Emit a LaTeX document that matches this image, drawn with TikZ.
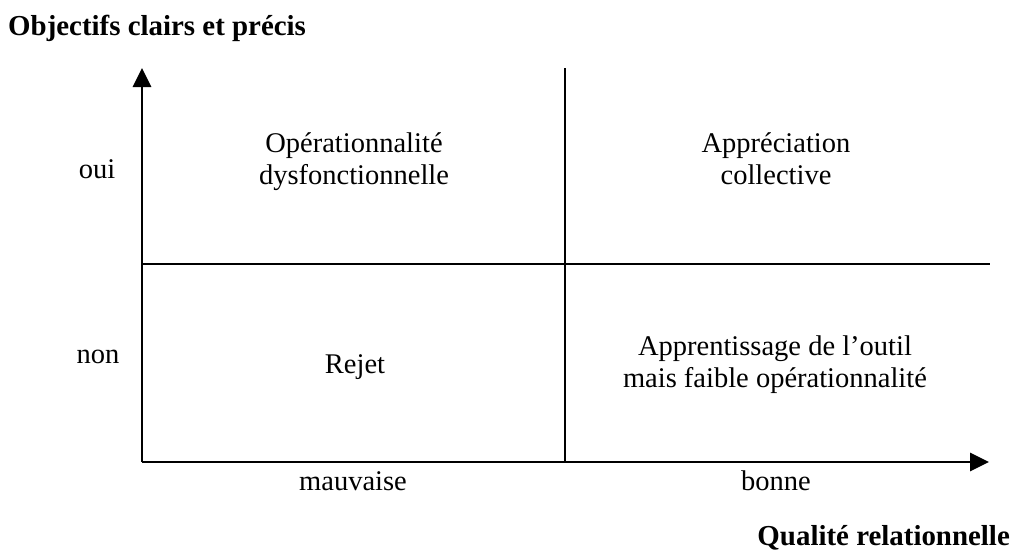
\documentclass[tikz,border=0pt]{standalone}
\usepackage{fontspec}
\setmainfont{Liberation Serif}
\usetikzlibrary{arrows.meta}
\begin{document}
\begin{tikzpicture}[x=1pt,y=-1pt,
  lbl/.style={inner sep=0pt,anchor=base,font=\fontsize{28.5}{32}\selectfont,align=center},
  axistitle/.style={inner sep=0pt,font=\fontsize{28.9}{32}\selectfont\bfseries},
  axisline/.style={line width=2.8pt,-{Triangle[length=19pt,width=18pt]}},
  divider/.style={line width=2pt}]
\useasboundingbox (0,0) rectangle (1017,554);

% axes
\coordinate (origin) at (142,462);
\coordinate (ytip) at (142,68);
\coordinate (xtip) at (989,462);
\draw[axisline] (origin) -- (ytip);
\draw[axisline] (origin) -- (xtip);

% quadrant dividers
\coordinate (vtop) at (565,68);
\coordinate (vbot) at (565,462);
\coordinate (hleft) at (142,264);
\coordinate (hright) at (990,264);
\draw[divider] (vtop) -- (vbot);
\draw[divider] (hleft) -- (hright);

% axis titles
\node[axistitle,anchor=base west] (ytitle) at (8,35) {Objectifs clairs et précis};
\node[axistitle,anchor=base east] (xtitle) at (1010,545) {Qualité relationnelle};

% axis values
\node[lbl] (oui) at (97,178) {oui};
\node[lbl] (non) at (98,363) {non};
\node[lbl] (mauvaise) at (353,490) {mauvaise};
\node[lbl] (bonne) at (776,490) {bonne};

% quadrants (base anchor sits on the last line)
\node[lbl] (q1) at (354,184) {Opérationnalité\\dysfonctionnelle};
\node[lbl] (q2) at (776,184) {Appréciation\\collective};
\node[lbl] (q3) at (355,373) {Rejet};
\node[lbl] (q4) at (775,387) {Apprentissage de l’outil\\mais faible opérationnalité};
\end{tikzpicture}
\end{document}
